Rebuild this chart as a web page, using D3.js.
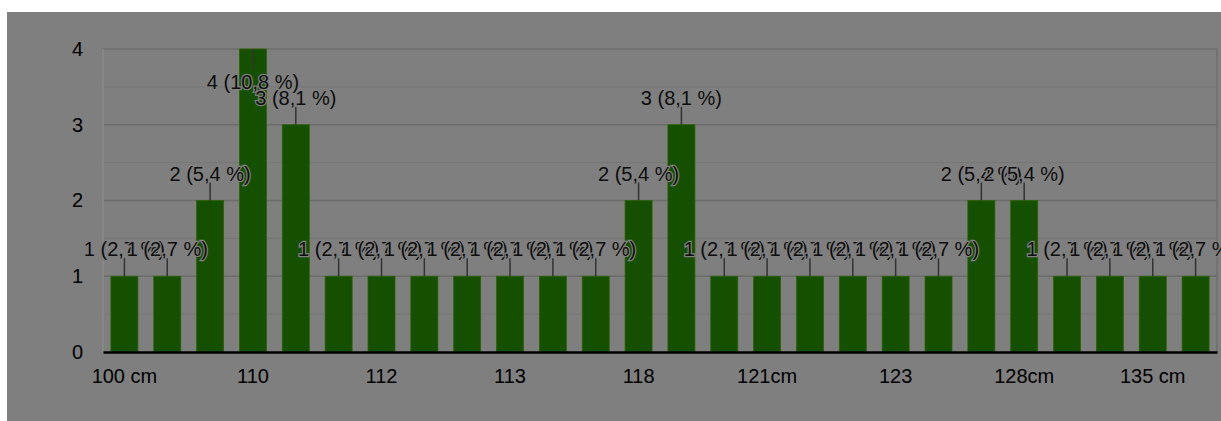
<!DOCTYPE html>
<html>
<head>
<meta charset="utf-8">
<script src="https://cdn.jsdelivr.net/npm/d3@7"></script>
<style>
  html, body { margin: 0; padding: 0; background: #ffffff; }
  svg { display: block; }
  text { font-family: "Liberation Sans", Arial, Helvetica, sans-serif; }
</style>
</head>
<body>
<svg id="chart" width="1221" height="421"></svg>
<script>
// ---- data ----
const values = [1, 1, 2, 4, 3, 1, 1, 1, 1, 1, 1, 1, 2, 3, 1, 1, 1, 1, 1, 1, 2, 2, 1, 1, 1, 1];
const tickIndices = [0, 3, 6, 9, 12, 15, 18, 21, 24];
const tickLabels = ["100 cm", "110", "112", "113", "118", "121cm", "123", "128cm", "135 cm"];
const yTicks = [0, 1, 2, 3, 4];
const yMinorTicks = [0.5, 1.5, 2.5, 3.5];

(function () {
const total = d3.sum(values);
const svg = d3.select("#chart");

// outer background
svg.append("rect").attr("x", 7).attr("y", 12).attr("width", 1214).attr("height", 409).attr("fill", "#7f7f7f");

const pLeft = 103, pRight = 1217, pTop = 49, pBottom = 352;

const x = d3.scaleBand().domain(d3.range(values.length)).range([pLeft, pRight])
  .paddingInner(0.37).paddingOuter(0.185);
const y = d3.scaleLinear().domain([0, 4]).range([pBottom, pTop]);

// minor grid
svg.append("g").selectAll("line").data(yMinorTicks).join("line")
  .attr("x1", pLeft).attr("x2", pRight)
  .attr("y1", d => y(d)).attr("y2", d => y(d))
  .attr("stroke", "#767676").attr("stroke-width", 1);
// major grid
svg.append("g").selectAll("line").data(yTicks.filter(d => d > 0)).join("line")
  .attr("x1", pLeft).attr("x2", pRight)
  .attr("y1", d => y(d)).attr("y2", d => y(d))
  .attr("stroke", "#6c6c6c").attr("stroke-width", 1.5);
// plot border (left light, right)
svg.append("line").attr("x1", pLeft).attr("x2", pLeft).attr("y1", pTop).attr("y2", pBottom)
  .attr("stroke", "#8a8a8a").attr("stroke-width", 1.5);
svg.append("line").attr("x1", pRight).attr("x2", pRight).attr("y1", pTop).attr("y2", pBottom)
  .attr("stroke", "#6e6e6e").attr("stroke-width", 1.5);

// bars
svg.append("g").selectAll("rect").data(values).join("rect")
  .attr("x", (d, i) => x(i))
  .attr("y", d => y(d))
  .attr("width", x.bandwidth())
  .attr("height", d => y(0) - y(d))
  .attr("fill", "#154f00")
  .attr("stroke", "#2c6400")
  .attr("stroke-width", 0.8);

// x axis
const xAxis = d3.axisBottom(x).tickValues(tickIndices)
  .tickFormat(i => tickLabels[tickIndices.indexOf(i)])
  .tickSize(0).tickPadding(17);
const gx = svg.append("g").attr("transform", `translate(0,${pBottom})`).call(xAxis);
gx.select(".domain").attr("stroke", "#000").attr("stroke-width", 2.5);
gx.selectAll("text").attr("font-size", 20).attr("fill", "#000")
  .style("font-family", "'Liberation Sans', Arial, sans-serif");

// y axis
const yAxis = d3.axisLeft(y).tickValues(yTicks).tickFormat(d3.format("d"))
  .tickSize(0).tickPadding(20);
const gy = svg.append("g").attr("transform", `translate(${pLeft},0)`).call(yAxis);
gy.select(".domain").remove();
gy.selectAll("text").attr("font-size", 20).attr("fill", "#000")
  .style("font-family", "'Liberation Sans', Arial, sans-serif");

// data labels with leader lines
const maxV = d3.max(values);
const fmt = v => `${v} (${(v / total * 100).toFixed(1).replace(".", ",")} %)`;
const lbl = svg.append("g");
values.forEach((v, i) => {
  const cx = x(i) + x.bandwidth() / 2;
  const yt = y(v);
  const inside = v === maxV;
  const y2 = inside ? yt + 21 : yt - 18;
  const base = inside ? yt + 40 : yt - 20;
  lbl.append("line").attr("x1", cx).attr("x2", cx).attr("y1", yt).attr("y2", y2)
    .attr("stroke", "#333").attr("stroke-width", 1.5);
  lbl.append("text").attr("x", cx).attr("y", base)
    .attr("text-anchor", "middle").attr("font-size", 20)
    .attr("fill", "#0d0d0d")
    .attr("stroke", "#808080").attr("stroke-width", 2.5)
    .attr("paint-order", "stroke")
    .text(fmt(v));
});
})();
</script>
</body>
</html>
